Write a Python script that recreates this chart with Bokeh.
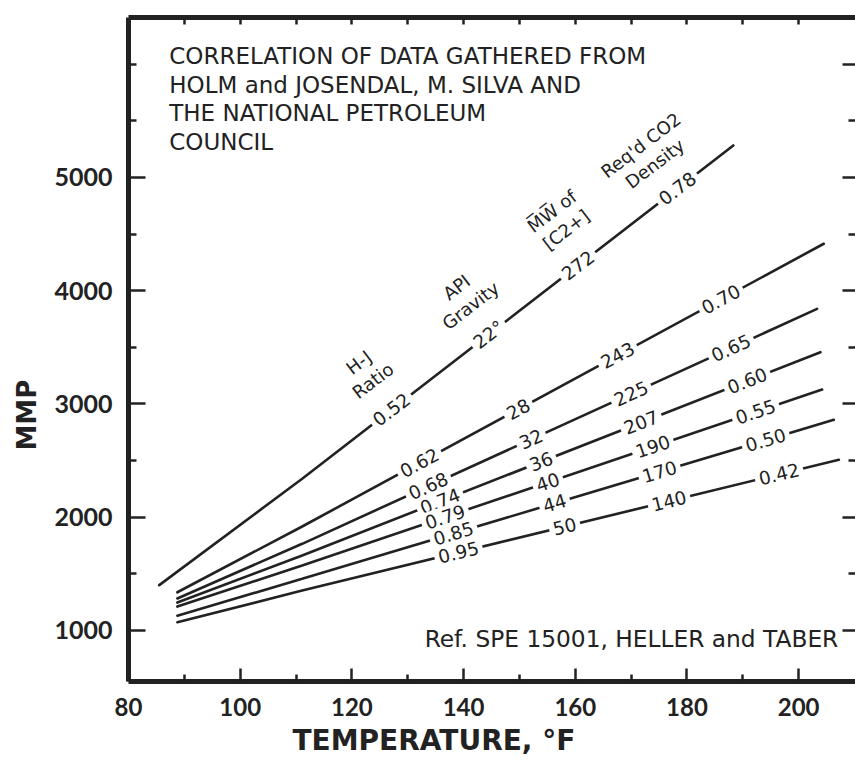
import numpy as np
from bokeh.plotting import figure
from bokeh.models import Range1d, LinearAxis, FixedTicker, Label, ColumnDataSource, Title
from bokeh.core.properties import value
from bokeh.embed import file_html
from bokeh.resources import INLINE

# ---------------- data ----------------
X_MAJOR = [80, 100, 120, 140, 160, 180, 200]
X_MINOR = [90, 110, 130, 150, 170, 190]
X_TOP = [90, 100, 110, 120, 130, 140, 150, 160, 170, 180, 190, 200]
Y_MAJOR = [1000, 2000, 3000, 4000, 5000]
Y_MINOR = [1500, 2500, 3500, 4500, 5500, 6000]
Y_RIGHT_LONG = [1000, 2000, 3000, 4000, 5000, 6000]
Y_RIGHT_SHORT = [1500, 2500, 3500, 4500, 5500]

# each curve: temperature (F), MMP (psi), labels along it and their temperatures
A_T = [85.5, 111.1, 188.3]
A_MMP = [1400, 2340, 5283]
A_LAB = ["0.52", "22°", "272", "0.78"]
A_LAB_T = [127.1, 144.5, 160.5, 178.3]

B_T = [88.75, 111.1, 204.5]
B_MMP = [1337, 1918, 4415]
B_LAB = ["0.62", "28", "243", "0.70"]
B_LAB_T = [132.1, 149.8, 167.6, 186.1]

C_T = [88.75, 111.1, 203.3]
C_MMP = [1282, 1765, 3840]
C_LAB = ["0.68", "32", "225", "0.65"]
C_LAB_T = [133.7, 152.1, 170.0, 187.9]

D_T = [88.75, 111.1, 203.9]
D_MMP = [1246, 1662, 3457]
D_LAB = ["0.74", "36", "207", "0.60"]
D_LAB_T = [135.8, 153.9, 171.8, 190.8]

E_T = [88.75, 111.1, 204.2]
E_MMP = [1211, 1574, 3128]
E_LAB = ["0.79", "40", "190", "0.55"]
E_LAB_T = [136.7, 155.1, 173.9, 192.3]

F_T = [88.75, 111.1, 206.3]
F_MMP = [1130, 1456, 2860]
F_LAB = ["0.85", "44", "170", "0.50"]
F_LAB_T = [138.2, 156.3, 175.1, 194.1]

G_T = [88.75, 111.1, 207.2]
G_MMP = [1072, 1352, 2507]
G_LAB = ["0.95", "50", "140", "0.42"]
G_LAB_T = [139.1, 158.1, 176.8, 196.5]

HEADER_TEXT = ["H-J\nRatio", "API\nGravity", "M\u0305W\u0305 of\n[C2+]", "Req'd CO2\nDensity"]
HEADER_T = [122.5, 140.0, 157.1, 173.0]
HEADER_MMP = [3287, 3950, 4621, 5204]

NOTE_TEXT = ("CORRELATION OF DATA GATHERED FROM\n"
             "HOLM and JOSENDAL, M. SILVA AND\n"
             "THE NATIONAL PETROLEUM\n"
             "COUNCIL")
REF_TEXT = "Ref. SPE 15001, HELLER and TABER"
X_TITLE = "TEMPERATURE, °F"
Y_TITLE = "MMP"

# ---------------- layout ----------------
W, H = 855, 760
BL, BR, BT, BB = 126, 0, 17, 79
X0, X1 = 80, 210.18
Y0, Y1 = 549, 6413
INK = "#222222"

p = figure(width=W, height=H, x_range=Range1d(X0, X1), y_range=Range1d(Y0, Y1),
           output_backend="svg", toolbar_location=None,
           x_axis_location=None, y_axis_location=None,
           min_border_left=BL, min_border_right=BR, min_border_top=BT, min_border_bottom=BB)
p.outline_line_color = None
for g in p.grid:
    g.visible = False

frame_w = W - BL - BR
frame_h = H - BT - BB
px_x = frame_w / (X1 - X0)
px_y = frame_h / (Y1 - Y0)


def style_ticks(ax, major_in, minor_in):
    ax.major_tick_in = major_in
    ax.major_tick_out = 0
    ax.minor_tick_in = minor_in
    ax.minor_tick_out = 0
    ax.major_tick_line_width = 2.5
    ax.minor_tick_line_width = 2.5
    ax.major_tick_line_color = INK
    ax.minor_tick_line_color = INK


left = LinearAxis(ticker=FixedTicker(ticks=Y_MAJOR, minor_ticks=Y_MINOR))
left.axis_line_width = 5
left.axis_line_color = INK
style_ticks(left, 17, 8)
left.major_label_standoff = 16
left.major_label_text_font = "Lato"
left.major_label_text_font_style = "bold"
left.major_label_text_font_size = "25px"
left.major_label_text_color = INK
p.add_layout(left, "left")

bottom = LinearAxis(ticker=FixedTicker(ticks=X_MAJOR, minor_ticks=X_MINOR))
bottom.axis_line_width = 5
bottom.axis_line_color = INK
style_ticks(bottom, 13, 7)
bottom.major_label_standoff = 16
bottom.major_label_text_font = "Lato"
bottom.major_label_text_font_style = "bold"
bottom.major_label_text_font_size = "24px"
bottom.major_label_text_color = INK
p.add_layout(bottom, "below")

top = LinearAxis(ticker=FixedTicker(ticks=[], minor_ticks=X_TOP))
top.axis_line_width = 5
top.axis_line_color = INK
style_ticks(top, 0, 7)
p.add_layout(top, "above")

right_long = LinearAxis(ticker=FixedTicker(ticks=[], minor_ticks=Y_RIGHT_LONG))
right_long.axis_line_alpha = 0
style_ticks(right_long, 0, 13)
p.add_layout(right_long, "right")

right_short = LinearAxis(ticker=FixedTicker(ticks=[], minor_ticks=Y_RIGHT_SHORT))
right_short.axis_line_alpha = 0
style_ticks(right_short, 0, 7)
p.add_layout(right_short, "right")

# axis titles as side-panel titles (so they can sit outside the frame)
xtitle = Title(text=X_TITLE, align="left", offset=164, standoff=6,
               text_font="DejaVu Sans", text_font_style="bold",
               text_font_size="28px", text_color=INK)
p.add_layout(xtitle, "below")

ytitle = Title(text=Y_TITLE, align="left", offset=231, standoff=19,
               text_font="DejaVu Sans", text_font_style="bold",
               text_font_size="26px", text_color=INK)
p.add_layout(ytitle, "left")

curves = [
    (A_T, A_MMP, A_LAB, A_LAB_T),
    (B_T, B_MMP, B_LAB, B_LAB_T),
    (C_T, C_MMP, C_LAB, C_LAB_T),
    (D_T, D_MMP, D_LAB, D_LAB_T),
    (E_T, E_MMP, E_LAB, E_LAB_T),
    (F_T, F_MMP, F_LAB, F_LAB_T),
    (G_T, G_MMP, G_LAB, G_LAB_T),
]

lx, ly, lt, la = [], [], [], []
angle_a = None
for T, M, labs, labt in curves:
    p.line(T, M, line_width=2.6, line_color=INK, line_cap="round")
    slope = (M[-1] - M[0]) / (T[-1] - T[0])
    ang = float(np.arctan(slope * px_y / px_x))
    if angle_a is None:
        angle_a = ang
    for s, t in zip(labs, labt):
        lx.append(t)
        ly.append(float(np.interp(t, T, M)))
        lt.append(s)
        la.append(ang)

src = ColumnDataSource(dict(x=lx, y=ly, text=lt, angle=la))
p.text(x="x", y="y", text="text", angle="angle", source=src,
       text_font=value("DejaVu Sans"), text_font_size=value("18.5px"),
       text_color=INK, text_align="center", text_baseline="middle",
       background_fill_color="white", padding=4)

hsrc = ColumnDataSource(dict(x=HEADER_T, y=HEADER_MMP, text=HEADER_TEXT,
                             angle=[angle_a] * len(HEADER_T)))
p.text(x="x", y="y", text="text", angle="angle", source=hsrc,
       text_font=value("DejaVu Sans"), text_font_size=value("18px"),
       text_color=INK, text_align="center", text_baseline="middle",
       text_line_height=1.1)

note = Label(x=87.3, y=6184, text=NOTE_TEXT, text_font="DejaVu Sans",
             text_font_size="23px", text_color=INK, text_align="left",
             text_baseline="top", text_line_height=1.095)
p.add_layout(note)

ref = Label(x=207.1, y=926, text=REF_TEXT, text_font="DejaVu Sans",
            text_font_size="23.3px", text_color=INK, text_align="right",
            text_baseline="middle")
p.add_layout(ref)

open("out.html", "w").write(file_html(p, INLINE))
